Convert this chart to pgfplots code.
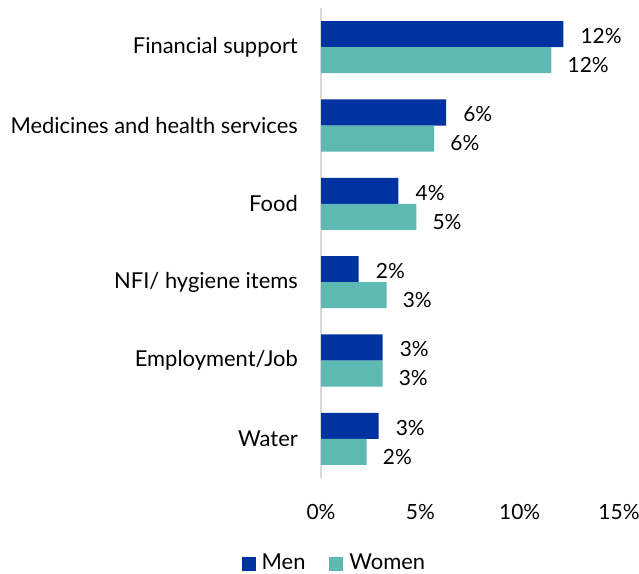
\documentclass[border=0pt]{standalone}
\usepackage{pgfplots}
\pgfplotsset{compat=1.18}
\usepackage{fontspec}
\setmainfont{Lato}
\definecolor{men}{HTML}{0033A0}
\definecolor{women}{HTML}{5EB9B3}
\begin{document}
\fontsize{22}{26}\selectfont
\begin{tikzpicture}
\useasboundingbox (0bp,0bp) rectangle (639bp,574bp);
\begin{axis}[
  at={(321bp,96bp)}, anchor=south west,
  scale only axis, width=298bp, height=470bp,
  xmin=0, xmax=15, ymin=-0.5, ymax=5.5,
  y dir=reverse,
  xtick={0,5,10,15},
  xticklabel={\pgfmathprintnumber{\tick}\%},
  /pgf/number format/assume math mode=true,
  ytick={0,1,2,3,4,5},
  yticklabels={Financial support, Medicines and health services, Food, NFI/ hygiene items, Employment/Job, Water},
  axis lines*=left,
  x axis line style={draw=none},
  y axis line style={draw=black!15, line width=2bp},
  major tick length=0pt,
  xticklabel style={anchor=center, inner sep=0pt, yshift=-34bp, font=\fontsize{21}{25}\selectfont},
  yticklabel style={anchor=east, inner sep=0pt, xshift=-23bp, font=\fontsize{22}{26}\selectfont},
  legend columns=2,
  legend style={at={(0.045,-0.182)}, anchor=center, draw=none, fill=none, inner sep=0pt,
    font=\fontsize{22}{26}\selectfont,
    /tikz/every odd column/.append style={column sep=4bp},
    /tikz/every even column/.append style={column sep=22bp}},
  legend image code/.code={\fill[#1] (0bp,-7bp) rectangle (14bp,7bp);},
  nodes near coords={\pgfmathprintnumber[fixed,precision=0]{\pgfplotspointmeta}\%},
  nodes near coords style={font=\fontsize{21}{25}\selectfont, anchor=west, inner sep=0pt, black},
  point meta=x,
  clip=false,
]
\addplot[xbar, bar width=0.332, bar shift=-0.166, fill=men, draw=none,
  nodes near coords style={xshift=17bp, yshift=11bp}] coordinates {
  (12.2,0) (6.3,1) (3.9,2) (1.9,3) (3.1,4) (2.9,5)};
\addplot[xbar, bar width=0.332, bar shift=0.166, fill=women, draw=none,
  nodes near coords style={xshift=16bp, yshift=-18bp}] coordinates {
  (11.6,0) (5.7,1) (4.8,2) (3.3,3) (3.1,4) (2.3,5)};
\legend{Men, Women}
\end{axis}
\end{tikzpicture}
\end{document}
